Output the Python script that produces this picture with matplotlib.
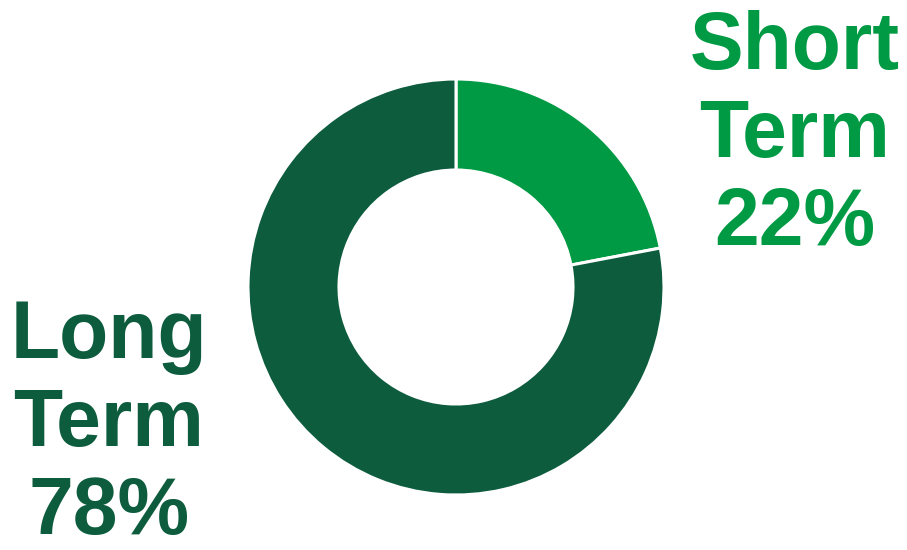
import matplotlib
matplotlib.use("Agg")
import matplotlib.pyplot as plt

categories = ["Short Term", "Long Term"]
values = [22, 78]
colors = ["#009A44", "#0D5C3E"]
labels = ["Short\nTerm\n22%", "Long\nTerm\n78%"]

fig = plt.figure(figsize=(9.07, 5.5), dpi=100)
ax = fig.add_axes([0, 0, 1, 1])
ax.pie(values, colors=colors, radius=208, center=(456, 263), startangle=90,
       counterclock=False,
       wedgeprops=dict(width=91, edgecolor="white", linewidth=2.2))
ax.set_xlim(0, 907)
ax.set_ylim(0, 550)
ax.set_aspect("auto")
ax.axis("off")

ax.text(795, 414, labels[0], ha="center", va="center", fontsize=58,
        fontweight="bold", color=colors[0], family="Liberation Sans",
        linespacing=1.2)
ax.text(109, 125, labels[1], ha="center", va="center", fontsize=58,
        fontweight="bold", color=colors[1], family="Liberation Sans",
        linespacing=1.2)

fig.savefig("out.png", dpi=100)
